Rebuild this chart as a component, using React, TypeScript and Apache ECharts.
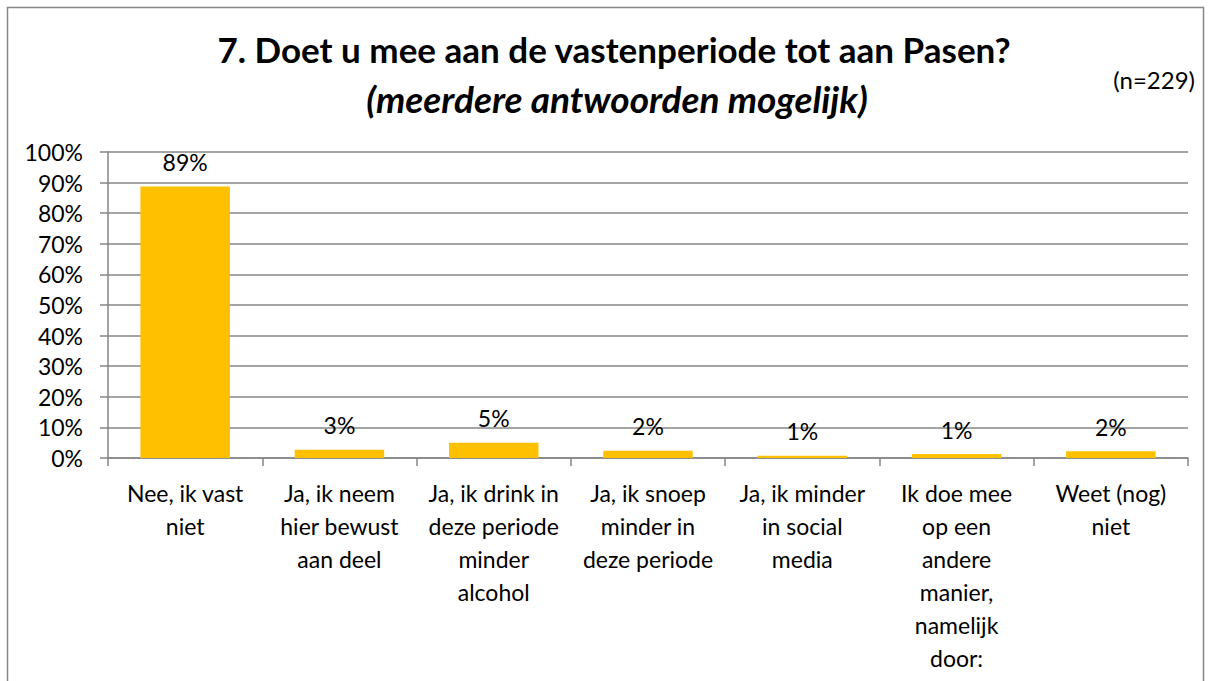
import React, { useEffect, useRef } from "react";
import * as echarts from "echarts";

const categories = [
  "Nee, ik vast\nniet",
  "Ja, ik neem\nhier bewust\naan deel",
  "Ja, ik drink in\ndeze periode\nminder\nalcohol",
  "Ja, ik snoep\nminder in\ndeze periode",
  "Ja, ik minder\nin social\nmedia",
  "Ik doe mee\nop een\nandere\nmanier,\nnamelijk\ndoor:",
  "Weet (nog)\nniet",
];
const values = [88.7, 2.7, 5.0, 2.4, 0.7, 1.3, 2.2];
const titleText = "7. Doet u mee aan de vastenperiode tot aan Pasen?";
const subtitleText = "(meerdere antwoorden mogelijk)";
const nText = "(n=229)";

const FONT = "Lato";
const GRAY = "#868686";

export default function App() {
  const ref = useRef<HTMLDivElement>(null);
  useEffect(() => {
    if (!ref.current) return;
    const chart = echarts.init(ref.current, null, { renderer: "svg" });
    chart.setOption({
      animation: false,
      backgroundColor: "#ffffff",
      textStyle: { fontFamily: FONT },
      title: [
        {
          text: titleText,
          left: 609,
          textAlign: "center",
          top: 26,
          textStyle: { fontFamily: FONT, fontSize: 35, fontWeight: "bold", color: "#000" },
        },
        {
          text: subtitleText,
          left: 612,
          textAlign: "center",
          top: 75,
          textStyle: { fontFamily: FONT, fontSize: 37, fontWeight: "bold", fontStyle: "italic", color: "#000" },
        },
        {
          text: nText,
          right: 12,
          top: 62,
          textStyle: { fontFamily: FONT, fontSize: 24, fontWeight: "normal", color: "#000" },
        },
      ],
      graphic: [
        {
          type: "rect",
          shape: { x: 7.5, y: 7.5, width: 1196, height: 700 },
          style: { fill: "none", stroke: GRAY, lineWidth: 1.5 },
          silent: true,
        },
      ],
      grid: { left: 108, right: 24, top: 152, bottom: 223, containLabel: false },
      xAxis: {
        type: "category",
        data: categories,
        axisLine: { show: true, lineStyle: { color: GRAY, width: 1.5 } },
        axisTick: { show: true, length: 8, interval: 0, alignWithLabel: false, lineStyle: { color: GRAY, width: 1.5 } },
        axisLabel: {
          interval: 0,
          margin: 18,
          fontFamily: FONT,
          fontSize: 23,
          lineHeight: 33,
          color: "#000",
          verticalAlign: "top",
        },
      },
      yAxis: {
        type: "value",
        min: 0,
        max: 100,
        interval: 10,
        axisLine: { show: true, lineStyle: { color: GRAY, width: 1.5 } },
        axisTick: { show: true, length: 8, lineStyle: { color: GRAY, width: 1.5 } },
        splitLine: { show: true, lineStyle: { color: GRAY, width: 1.5 } },
        axisLabel: {
          formatter: "{value}%",
          margin: 25,
          fontFamily: FONT,
          fontSize: 23,
          color: "#000",
        },
      },
      series: [
        {
          type: "bar",
          data: values,
          barWidth: "58%",
          itemStyle: { color: "#FFC000" },
          label: {
            show: true,
            position: "top",
            distance: 13,
            fontFamily: FONT,
            fontSize: 23,
            color: "#000",
            formatter: (p: any) => Math.round(p.value) + "%",
          },
        },
      ],
    });
    return () => chart.dispose();
  }, []);
  return (
    <div
      ref={ref}
      style={{ position: "fixed", left: 0, top: 0, width: 1212, height: 681 }}
    />
  );
}
